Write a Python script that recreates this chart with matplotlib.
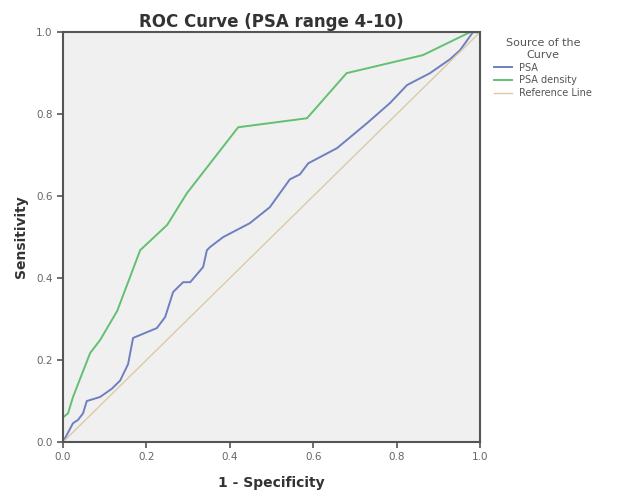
import matplotlib
matplotlib.use("Agg")
import matplotlib.pyplot as plt

# ROC curve data (1 - specificity, sensitivity)
psa_fpr = [0.0, 0.024, 0.036, 0.048, 0.057, 0.089, 0.117, 0.137, 0.156, 0.168, 0.225, 0.245,
           0.264, 0.288, 0.305, 0.336, 0.345, 0.353, 0.384, 0.448, 0.496, 0.544, 0.568, 0.588,
           0.657, 0.729, 0.784, 0.825, 0.88, 0.928, 0.952, 0.969, 0.983, 1.0]
psa_tpr = [0.0, 0.046, 0.054, 0.07, 0.10, 0.11, 0.13, 0.15, 0.19, 0.254, 0.278, 0.305,
           0.366, 0.39, 0.39, 0.427, 0.468, 0.476, 0.50, 0.534, 0.573, 0.641, 0.653, 0.68,
           0.717, 0.778, 0.827, 0.871, 0.90, 0.934, 0.956, 0.98, 1.0, 1.0]

dens_fpr = [0.0, 0.0, 0.012, 0.024, 0.065, 0.089, 0.13, 0.185, 0.25, 0.297, 0.42, 0.585,
            0.68, 0.863, 0.976, 1.0]
dens_tpr = [0.0, 0.06, 0.07, 0.11, 0.217, 0.249, 0.32, 0.468, 0.53, 0.607, 0.768, 0.79,
            0.90, 0.944, 1.0, 1.0]

ref_x = [0.0, 1.0]
ref_y = [0.0, 1.0]

ticks = [0.0, 0.2, 0.4, 0.6, 0.8, 1.0]

fig = plt.figure(figsize=(6.19, 4.95), dpi=100)
ax = fig.add_axes([0.1018, 0.107, 0.6737, 0.828])
ax.set_facecolor("#f0f0f0")

ax.plot(psa_fpr, psa_tpr, color="#6f7fbf", lw=1.4, label="PSA")
ax.plot(dens_fpr, dens_tpr, color="#62c070", lw=1.4, label="PSA density")
ax.plot(ref_x, ref_y, color="#dccaa6", lw=1.0, label="Reference Line")

ax.set_xlim(0, 1)
ax.set_ylim(0, 1)
ax.set_xticks(ticks)
ax.set_yticks(ticks)
ax.set_xticklabels([f"{t:.1f}" for t in ticks])
ax.set_yticklabels([f"{t:.1f}" for t in ticks])
ax.tick_params(direction="out", length=4, width=1.2, color="#555555",
               labelsize=7.5, labelcolor="#666666")
for s in ax.spines.values():
    s.set_color("#555555")
    s.set_linewidth(1.5)

ax.set_title("ROC Curve (PSA range 4-10)", fontsize=12, fontweight="bold",
             color="#333333", pad=4)
ax.set_xlabel("1 - Specificity", fontsize=10, fontweight="bold", color="#333333", labelpad=10)
ax.set_ylabel("Sensitivity", fontsize=10, fontweight="bold", color="#333333", labelpad=6)

leg = ax.legend(title="Source of the\nCurve", loc="upper left", bbox_to_anchor=(1.02, 1.0),
                frameon=False, fontsize=7, title_fontsize=8, handlelength=1.8,
                labelspacing=0.3, borderaxespad=0.2)
leg.get_title().set_multialignment("center")
leg.get_title().set_color("#555555")
for t in leg.get_texts():
    t.set_color("#555555")

fig.savefig("out.png", dpi=100)
